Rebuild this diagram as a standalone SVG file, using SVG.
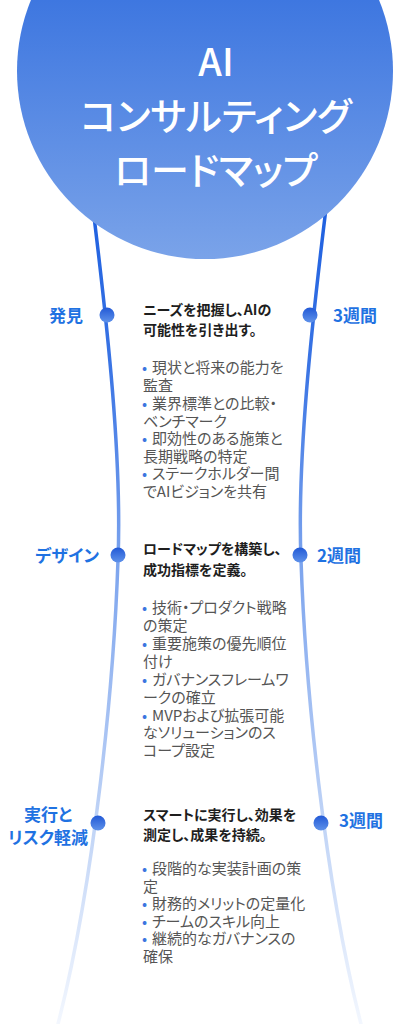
<svg xmlns="http://www.w3.org/2000/svg" width="415" height="1024" viewBox="0 0 415 1024">
<defs>
<linearGradient id="gCircle" x1="0" y1="0" x2="0" y2="1">
<stop offset="0" stop-color="#2363dc"/>
<stop offset="1" stop-color="#7aa3e9"/>
</linearGradient>
<linearGradient id="gLine" gradientUnits="userSpaceOnUse" x1="0" y1="200" x2="0" y2="1024">
<stop offset="0" stop-color="#1d5fe0"/>
<stop offset="0.2" stop-color="#3a74e4"/>
<stop offset="0.45" stop-color="#7fa6ee"/>
<stop offset="0.75" stop-color="#bfd3f6"/>
<stop offset="1" stop-color="#f3f7fe"/>
</linearGradient>
<linearGradient id="gDot" x1="0" y1="0" x2="0" y2="1">
<stop offset="0" stop-color="#2259d6"/>
<stop offset="1" stop-color="#5f92ea"/>
</linearGradient>
</defs>
<style>
text{font-family:"Noto Sans CJK JP","Noto Sans",sans-serif;font-feature-settings:"palt";}
.title{fill:#ffffff;font-size:38px;font-weight:500;text-anchor:middle;}
.lbl{fill:#1f72e2;font-size:17px;font-weight:700;}
.head{fill:#1e1e1e;font-size:14px;font-weight:700;}
.body{fill:#555555;font-size:15px;}
.bul{fill:#3b75e0;}
.conn{fill:none;stroke:url(#gLine);stroke-width:3.5;stroke-linecap:round;}
.dot{fill:url(#gDot);}
</style>
<g id="connectors">
<path class="conn" d="M92,200 C108,330 122,460 118,560 C114,680 95,880 58,1024"/>
<path class="conn" d="M327,200 C311,330 297,460 301,560 C305,680 324,880 361,1024"/>
</g>
<g id="title">
<circle cx="205" cy="71" r="188" fill="url(#gCircle)"/>
<text class="title" x="216" y="76">AI</text>
<text class="title" x="216" y="130">コンサルティング</text>
<text class="title" x="216" y="184">ロードマップ</text>
</g>
<g id="phase1">
<circle class="dot" cx="107" cy="315" r="7.5"/>
<circle class="dot" cx="310" cy="315" r="7.5"/>
<text class="lbl" x="83" y="322" text-anchor="end">発見</text>
<text class="lbl" x="333" y="322">3週間</text>
<text class="head" x="143" y="315">ニーズを把握し、AIの</text>
<text class="head" x="143" y="335">可能性を引き出す。</text>
<text class="body">
<tspan class="bul" x="142" y="373">•</tspan><tspan x="152" y="373">現状と将来の能力を</tspan>
<tspan x="143" y="391">監査</tspan>
<tspan class="bul" x="142" y="409">•</tspan><tspan x="152" y="409">業界標準との比較・</tspan>
<tspan x="143" y="427">ベンチマーク</tspan>
<tspan class="bul" x="142" y="444">•</tspan><tspan x="152" y="444">即効性のある施策と</tspan>
<tspan x="143" y="462">長期戦略の特定</tspan>
<tspan class="bul" x="142" y="479">•</tspan><tspan x="152" y="479">ステークホルダー間</tspan>
<tspan x="143" y="497">でAIビジョンを共有</tspan>
</text>
</g>
<g id="phase2">
<circle class="dot" cx="118" cy="555" r="7.5"/>
<circle class="dot" cx="300" cy="555" r="7.5"/>
<text class="lbl" x="99" y="562" text-anchor="end">デザイン</text>
<text class="lbl" x="317" y="562">2週間</text>
<text class="head" x="143" y="554">ロードマップを構築し、</text>
<text class="head" x="143" y="575">成功指標を定義。</text>
<text class="body">
<tspan class="bul" x="142" y="613">•</tspan><tspan x="152" y="613">技術・プロダクト戦略</tspan>
<tspan x="143" y="631">の策定</tspan>
<tspan class="bul" x="142" y="649">•</tspan><tspan x="152" y="649">重要施策の優先順位</tspan>
<tspan x="143" y="667">付け</tspan>
<tspan class="bul" x="142" y="685">•</tspan><tspan x="152" y="685">ガバナンスフレームワ</tspan>
<tspan x="143" y="703">ークの確立</tspan>
<tspan class="bul" x="142" y="721">•</tspan><tspan x="152" y="721">MVPおよび拡張可能</tspan>
<tspan x="143" y="738">なソリューションのス</tspan>
<tspan x="143" y="756">コープ設定</tspan>
</text>
</g>
<g id="phase3">
<circle class="dot" cx="98" cy="823" r="7.5"/>
<circle class="dot" cx="321" cy="823" r="7.5"/>
<text class="lbl" x="48" y="821" text-anchor="middle">実行と</text>
<text class="lbl" x="48" y="844" text-anchor="middle">リスク軽減</text>
<text class="lbl" x="339" y="827">3週間</text>
<text class="head" x="143" y="820">スマートに実行し、効果を</text>
<text class="head" x="143" y="840">測定し、成果を持続。</text>
<text class="body">
<tspan class="bul" x="142" y="874">•</tspan><tspan x="152" y="874">段階的な実装計画の策</tspan>
<tspan x="143" y="892">定</tspan>
<tspan class="bul" x="142" y="909">•</tspan><tspan x="152" y="909">財務的メリットの定量化</tspan>
<tspan class="bul" x="142" y="927">•</tspan><tspan x="152" y="927">チームのスキル向上</tspan>
<tspan class="bul" x="142" y="944">•</tspan><tspan x="152" y="944">継続的なガバナンスの</tspan>
<tspan x="143" y="962">確保</tspan>
</text>
</g>
</svg>
